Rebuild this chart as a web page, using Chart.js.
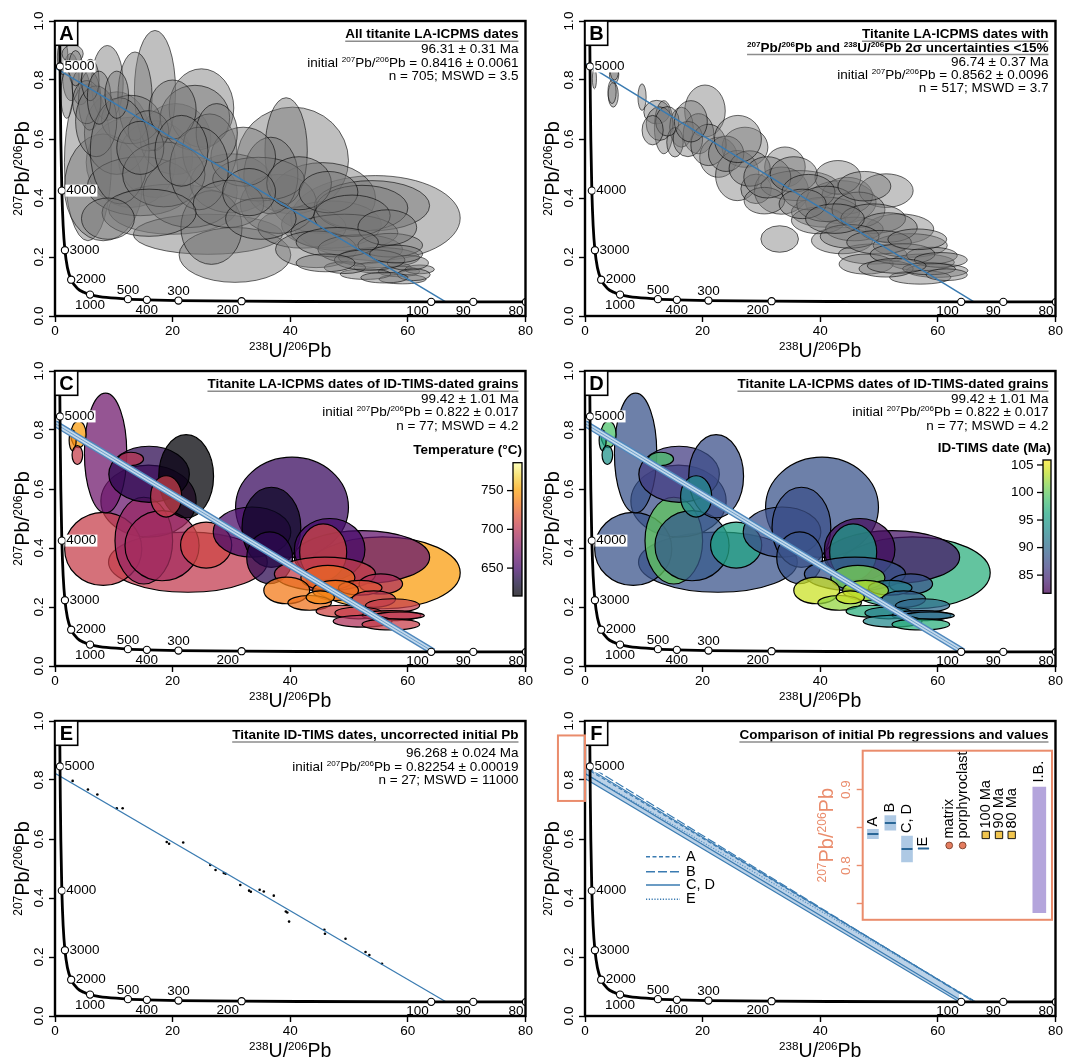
<!DOCTYPE html>
<html>
<head>
<meta charset="utf-8">
<title>Titanite U-Pb Tera-Wasserburg plots</title>
<script src="https://cdn.jsdelivr.net/npm/chart.js@4.4.1/dist/chart.umd.min.js"></script>
<style>
  html, body { margin: 0; padding: 0; background: #fff; }
  #page { position: relative; width: 1068px; height: 1059px; overflow: hidden; }
  #page canvas { position: absolute; }
</style>
</head>
<body>
<div id="page">
  <canvas id="cA" width="534" height="360" style="left:0;top:0"></canvas>
  <canvas id="cB" width="534" height="360" style="left:530px;top:0"></canvas>
  <canvas id="cC" width="534" height="360" style="left:0;top:350px"></canvas>
  <canvas id="cD" width="534" height="360" style="left:530px;top:350px"></canvas>
  <canvas id="cE" width="534" height="360" style="left:0;top:700px"></canvas>
  <canvas id="cF" width="534" height="360" style="left:530px;top:700px"></canvas>
  <canvas id="cInset" width="262" height="190" style="left:800px;top:740px"></canvas>
</div>
<script>
const FONT = '"Liberation Sans", Arial, Helvetica, sans-serif';
const ORANGE = '#ea8c6c';
const BLUE = '#3a7bb1';

// Axes
const xTicks = [0, 20, 40, 60, 80];
const yTicks = [0, 0.2, 0.4, 0.6, 0.8, 1.0];

// Tera-Wasserburg concordia (age in Ma)
const concAge = [5250, 5200, 5100, 5000, 4800, 4500, 4000, 3500, 3000, 2500, 2000, 1500, 1200, 1000, 800, 700, 500, 400, 300, 200, 150, 100, 90, 80, 75];
const concX = [0.795, 0.806, 0.829, 0.853, 0.905, 0.990, 1.163, 1.387, 1.688, 2.111, 2.749, 3.817, 4.888, 5.959, 7.568, 8.718, 12.40, 15.62, 20.99, 31.73, 42.48, 63.97, 71.13, 80.08, 85.48];
const concY = [1.009, 0.974, 0.907, 0.846, 0.735, 0.597, 0.425, 0.306, 0.223, 0.164, 0.123, 0.0936, 0.0802, 0.0725, 0.0658, 0.0628, 0.0572, 0.0547, 0.0524, 0.0501, 0.0491, 0.0480, 0.0478, 0.0476, 0.04755];
const markerAges = [5000, 4000, 3000, 2000, 1000, 500, 400, 300, 200, 100, 90, 80];
const markerLabelPos = ['r', 'r', 'r', 'r', 'b', 't', 'b', 't', 'bl', 'bl', 'bl', 'bl'];
const markerLabelBox = [true, true, false, false, false, false, false, false, false, false, false, false];

// Regressions (y intercept = initial 207Pb/206Pb, lower intercept on concordia)
const regName = ['A', 'B', 'C, D', 'E'];
const regY0 = [0.8416, 0.8562, 0.822, 0.82254];
const regY0Err = [0.0061, 0.0096, 0.017, 0.00019];
const regEndX = [66.44, 66.14, 64.34, 66.46];
const regEndY = [0.0480, 0.0480, 0.0481, 0.0480];
// panel F envelope
const bandY0 = [0.805, 0.847];
const bandEndX = [63.6, 66.3];

// Panel A ellipses (all LA-ICPMS spots, subset)
const aCx = [54.5, 40.4, 12.9, 17.1, 5.6, 8.2, 20.0, 26.0, 30.6, 10.5, 20.5, 14.5, 23.0, 45.5, 30.0, 47.0, 42.0, 38.0, 17.0, 8.9, 13.6, 24.9, 23.8, 12.9, 15.9, 26.3, 39.3, 36.7, 34.6, 32.0, 26.6, 53.9, 52.2, 49.2, 44.4, 51.9, 55.1, 57.0, 55.7, 58.5, 59.1, 52.8, 49.3, 62.0, 60.0, 2.7, 4.4, 5.9, 1.3, 3.0, 5.4, 7.0,
  20.0, 27.5, 11.0, 18.5, 24.5, 29.5, 35.0, 41.5, 46.5, 50.5, 56.5, 48.0, 53.5, 58.0, 61.0, 56.0, 46.0, 3.5, 6.0, 7.5, 2.0, 10.5, 14.5, 21.5, 33.0, 16.0, 9.0];
const aCy = [0.332, 0.527, 0.521, 0.532, 0.521, 0.436, 0.362, 0.277, 0.207, 0.620, 0.600, 0.440, 0.420, 0.400, 0.450, 0.310, 0.300, 0.380, 0.764, 0.790, 0.745, 0.705, 0.672, 0.666, 0.628, 0.560, 0.560, 0.476, 0.464, 0.540, 0.300, 0.374, 0.366, 0.283, 0.226, 0.226, 0.198, 0.240, 0.164, 0.151, 0.125, 0.142, 0.164, 0.158, 0.180, 0.810, 0.776, 0.730, 0.878, 0.889, 0.725, 0.660,
  0.700, 0.620, 0.560, 0.480, 0.500, 0.380, 0.330, 0.450, 0.420, 0.340, 0.300, 0.250, 0.190, 0.210, 0.140, 0.130, 0.180, 0.840, 0.800, 0.740, 0.750, 0.750, 0.570, 0.560, 0.420, 0.350, 0.330];
const aRx = [14.4, 9.5, 7.6, 6.3, 4.0, 6.6, 10.9, 12.7, 9.5, 5.5, 6.0, 9.0, 8.0, 9.0, 7.0, 8.5, 7.5, 6.5, 3.5, 2.7, 2.9, 5.5, 5.9, 5.0, 3.45, 4.6, 3.6, 4.6, 7.8, 5.5, 5.2, 9.8, 7.8, 9.1, 6.9, 7.2, 6.9, 5.5, 4.9, 3.5, 4.0, 4.3, 3.5, 2.5, 3.5, 1.4, 1.5, 1.9, 0.9, 1.8, 2.4, 3.5,
  4.0, 3.5, 5.0, 7.0, 5.0, 6.0, 6.0, 5.5, 5.0, 6.5, 5.0, 7.0, 6.0, 4.5, 2.8, 4.0, 5.0, 1.2, 1.5, 2.0, 1.0, 2.0, 4.0, 4.5, 4.5, 8.0, 4.5];
const aRy = [0.144, 0.181, 0.153, 0.130, 0.266, 0.181, 0.085, 0.068, 0.093, 0.140, 0.120, 0.100, 0.120, 0.120, 0.100, 0.080, 0.070, 0.100, 0.204, 0.127, 0.150, 0.133, 0.110, 0.082, 0.068, 0.125, 0.180, 0.130, 0.074, 0.100, 0.125, 0.085, 0.077, 0.062, 0.062, 0.050, 0.034, 0.040, 0.020, 0.018, 0.016, 0.018, 0.020, 0.015, 0.025, 0.080, 0.060, 0.100, 0.060, 0.030, 0.073, 0.120,
  0.100, 0.100, 0.180, 0.110, 0.140, 0.080, 0.070, 0.090, 0.070, 0.070, 0.060, 0.050, 0.035, 0.030, 0.020, 0.018, 0.030, 0.060, 0.070, 0.090, 0.080, 0.080, 0.090, 0.120, 0.080, 0.080, 0.070];

// Panel B ellipses (2-sigma < 15 %)
const bCx = [1.6, 4.8, 4.95, 9.7, 20.4, 12.2, 13.4, 12.7, 16.4, 15.3, 19.3, 22.7, 27.2, 25.9, 29.1, 34.0, 33.4, 36.5, 43.5, 44.6, 43.0, 51.2, 33.1, 40.9, 53.5, 43.7, 48.9, 55.3, 57.3, 59.9, 57.0, 47.8, 39.7, 30.5, 45.8, 59.0, 51.2,
  14.0, 17.5, 21.0, 24.0, 28.0, 31.0, 35.5, 38.0, 41.0, 46.5, 49.0, 51.5, 45.0, 50.0, 54.0, 56.5, 60.5, 58.5, 53.0, 61.5, 37.0, 42.5, 47.5, 26.0, 18.0, 11.5, 5.0, 4.6];
const bCy = [0.804, 0.750, 0.819, 0.742, 0.695, 0.691, 0.640, 0.652, 0.640, 0.589, 0.618, 0.538, 0.572, 0.476, 0.431, 0.505, 0.425, 0.442, 0.386, 0.408, 0.470, 0.425, 0.261, 0.352, 0.295, 0.256, 0.210, 0.239, 0.182, 0.154, 0.131, 0.176, 0.324, 0.391, 0.295, 0.205, 0.160,
  0.660, 0.600, 0.580, 0.550, 0.500, 0.470, 0.480, 0.420, 0.380, 0.360, 0.330, 0.300, 0.270, 0.250, 0.210, 0.260, 0.190, 0.160, 0.170, 0.140, 0.380, 0.330, 0.440, 0.600, 0.660, 0.630, 0.830, 0.760];
const bRx = [0.35, 0.86, 0.8, 0.7, 3.45, 2.2, 1.6, 2.3, 2.0, 1.4, 2.6, 3.2, 3.9, 3.7, 2.6, 3.45, 4.6, 6.6, 6.0, 4.3, 3.9, 4.6, 3.2, 5.8, 5.8, 5.2, 5.8, 6.3, 5.5, 5.2, 5.2, 4.6, 4.6, 3.45, 4.9, 4.3, 4.6,
  2.0, 2.5, 3.0, 3.0, 3.5, 4.0, 4.0, 4.5, 5.0, 4.5, 5.5, 5.0, 5.0, 5.5, 5.5, 5.0, 4.5, 4.5, 5.0, 3.5, 4.0, 5.0, 4.5, 4.0, 2.8, 1.8, 0.7, 0.7];
const bRy = [0.034, 0.042, 0.031, 0.045, 0.088, 0.040, 0.090, 0.057, 0.068, 0.050, 0.068, 0.068, 0.068, 0.085, 0.050, 0.068, 0.080, 0.051, 0.073, 0.062, 0.057, 0.057, 0.045, 0.051, 0.051, 0.045, 0.034, 0.040, 0.028, 0.023, 0.023, 0.034, 0.045, 0.045, 0.040, 0.028, 0.028,
  0.050, 0.060, 0.070, 0.060, 0.060, 0.070, 0.060, 0.060, 0.060, 0.060, 0.050, 0.050, 0.040, 0.040, 0.035, 0.035, 0.025, 0.020, 0.025, 0.020, 0.050, 0.050, 0.050, 0.080, 0.070, 0.050, 0.030, 0.040];

// Panels C, D: spots on ID-TIMS-dated grains
const cdCx = [22.6, 15.9, 8.2, 15.1, 18.2, 8.6, 16.0, 22.3, 12.9, 18.9, 25.7, 4.0, 3.0, 3.8, 40.3, 33.5, 36.8, 36.5, 55.7, 52.2, 46.7, 45.6, 45.9, 55.4, 46.4, 51.9, 39.4, 47.7, 54.2, 43.3, 45.1, 57.4, 48.6, 51.6, 57.2, 58.6, 52.3, 57.1];
const cdCy = [0.352, 0.559, 0.397, 0.425, 0.408, 0.722, 0.650, 0.643, 0.702, 0.575, 0.410, 0.785, 0.765, 0.715, 0.538, 0.454, 0.470, 0.367, 0.316, 0.369, 0.395, 0.386, 0.312, 0.278, 0.299, 0.265, 0.256, 0.256, 0.227, 0.214, 0.233, 0.205, 0.186, 0.180, 0.171, 0.171, 0.152, 0.141];
const cdRx = [13.5, 8.1, 6.56, 4.9, 6.3, 3.6, 6.85, 4.66, 2.16, 2.65, 4.35, 1.3, 0.6, 0.9, 9.6, 6.6, 5.0, 3.9, 13.2, 11.5, 6.0, 4.0, 8.6, 3.7, 4.6, 3.7, 3.9, 3.9, 3.7, 3.7, 2.4, 4.6, 4.2, 4.0, 5.0, 4.2, 5.0, 4.9];
const cdRy = [0.102, 0.122, 0.124, 0.147, 0.119, 0.203, 0.095, 0.141, 0.0226, 0.070, 0.078, 0.045, 0.035, 0.032, 0.170, 0.085, 0.136, 0.088, 0.122, 0.090, 0.105, 0.096, 0.057, 0.034, 0.042, 0.025, 0.045, 0.034, 0.028, 0.025, 0.022, 0.023, 0.020, 0.020, 0.017, 0.012, 0.020, 0.019];
const cdTemp = [703, 665, 705, 685, 690, 668, 640, 615, 700, 705, 710, 748, 742, 705, 645, 652, 625, 640, 748, 662, 650, 710, 705, 695, 728, 718, 735, 730, 700, 732, 740, 705, 710, 705, 710, 700, 695, 705];
const cdDate = [88, 87.5, 88, 100, 88.5, 88, 86, 87.5, 99, 93, 96, 99, 96, 94, 88, 87.5, 87.5, 88, 97, 83, 82.5, 95, 88, 88, 101, 92, 104, 103, 89, 102, 104, 90, 97, 92, 89, 91, 93, 97];
const tempRange = [614, 786];
const tempTicks = [650, 700, 750];
const dateRange = [81.7, 105.9];
const dateTicks = [85, 90, 95, 100, 105];

// Panel E: ID-TIMS analyses
const eX = [3.0, 5.6, 7.2, 10.5, 11.5, 19.0, 19.4, 21.8, 26.4, 27.3, 28.7, 29.0, 31.5, 33.0, 33.3, 34.8, 35.5, 37.2, 39.25, 39.5, 39.8, 45.8, 45.9, 49.4, 52.8, 53.45, 55.6];
const eY = [0.797, 0.768, 0.751, 0.704, 0.704, 0.590, 0.584, 0.588, 0.512, 0.495, 0.485, 0.482, 0.444, 0.425, 0.421, 0.428, 0.422, 0.408, 0.354, 0.351, 0.320, 0.292, 0.279, 0.262, 0.217, 0.207, 0.177];

// Panel F inset: initial Pb values
const insetYRange = [0.729, 0.951];
const insetYTicks = [0.75, 0.8, 0.85, 0.9];
const insetYLabels = [0.8, 0.9];
const initNames = ['matrix', 'porphyroclast'];
const initY = [0.8266, 0.8266];
const modelNames = ['100 Ma', '90 Ma', '80 Ma'];
const modelY = [0.8404, 0.8404, 0.8404];
const ibRange = [0.7384, 0.9034];

// inset layout slots (x positions on a 0-100 strip)
const insetRegSlot = [5.4, 14.6, 23.4, 32.1];
const initSlot = [45.7, 52.8];
const modelSlot = [65, 72, 78.7];
const ibSlot = 93.3;

// Annotation texts
const notes = {
  A: ['**All titanite LA-ICPMS dates', '96.31 ± 0.31 Ma', 'initial ^{207}Pb/^{206}Pb = 0.8416 ± 0.0061', 'n = 705; MSWD = 3.5'],
  B: ['**Titanite LA-ICPMS dates with', '**^{207}Pb/^{206}Pb and ^{238}U/^{206}Pb 2σ uncertainties <15%', '96.74 ± 0.37 Ma', 'initial ^{207}Pb/^{206}Pb = 0.8562 ± 0.0096', 'n = 517; MSWD = 3.7'],
  C: ['**Titanite LA-ICPMS dates of ID-TIMS-dated grains', '99.42 ± 1.01 Ma', 'initial ^{207}Pb/^{206}Pb = 0.822 ± 0.017', 'n = 77; MSWD = 4.2'],
  E: ['**Titanite ID-TIMS dates, uncorrected initial Pb', '96.268 ± 0.024 Ma', 'initial ^{207}Pb/^{206}Pb = 0.82254 ± 0.00019', 'n = 27; MSWD = 11000'],
  F: ['**Comparison of initial Pb regressions and values']
};
const noteGaps = { A: [0, 15, 13.4, 13.4], B: [0, 13.4, 14.4, 13.4, 13], C: [0, 14.4, 13.4, 14.1], E: [0, 17.4, 14, 13.3], F: [0] };

// colour maps
const infernoStops = [[0,0,4],[22,11,57],[66,10,104],[106,23,110],[147,38,103],[188,55,84],[221,81,58],[243,120,25],[252,165,10],[246,215,70],[252,255,164]];
const viridisStops = [[68,1,84],[72,36,117],[65,68,135],[53,95,141],[42,120,142],[33,145,140],[34,168,132],[68,191,112],[122,209,81],[189,223,38],[253,231,37]];
const CMAP_ALPHA = 0.74;

function cmap(stops, t, alpha) {
  t = Math.max(0, Math.min(1, t));
  const f = t * (stops.length - 1);
  const i = Math.min(Math.floor(f), stops.length - 2);
  const u = f - i;
  const c = stops[i].map((v, k) => Math.round(v + (stops[i + 1][k] - v) * u));
  return 'rgba(' + c.join(',') + ',' + alpha + ')';
}

// ---- rich text with superscripts: '^{207}Pb'
function segs(s) {
  const out = []; const re = /\^\{([^}]*)\}/g; let last = 0, m;
  while ((m = re.exec(s))) {
    if (m.index > last) out.push({ t: s.slice(last, m.index) });
    out.push({ t: m[1], sup: true });
    last = re.lastIndex;
  }
  if (last < s.length) out.push({ t: s.slice(last) });
  return out;
}
function setFont(ctx, size, bold) { ctx.font = (bold ? 'bold ' : '') + size + 'px ' + FONT; }
function richWidth(ctx, s, size, bold) {
  let w = 0;
  for (const g of segs(s)) { setFont(ctx, g.sup ? size * 0.6 : size, bold); w += ctx.measureText(g.t).width; }
  return w;
}
function drawRich(ctx, s, x, y, size, opt) {
  opt = opt || {};
  const bold = !!opt.bold;
  const w = richWidth(ctx, s, size, bold);
  let cx = opt.align === 'right' ? x - w : opt.align === 'center' ? x - w / 2 : x;
  const x0 = cx;
  ctx.fillStyle = opt.color || '#000';
  ctx.textAlign = 'left'; ctx.textBaseline = 'alphabetic';
  for (const g of segs(s)) {
    const sz = g.sup ? size * 0.6 : size;
    setFont(ctx, sz, bold);
    ctx.fillText(g.t, cx, g.sup ? y - size * 0.37 : y);
    cx += ctx.measureText(g.t).width;
  }
  if (opt.underline) {
    ctx.strokeStyle = '#8c8c8c'; ctx.lineWidth = 1.5;
    ctx.beginPath(); ctx.moveTo(x0, y + 3); ctx.lineTo(x0 + w, y + 3); ctx.stroke();
  }
}

function drawConcLabels(ctx, xs, ys) {
  setFont(ctx, 13.5, false);
  markerAges.forEach((t, k) => {
    const i = concAge.indexOf(t);
    const px = xs.getPixelForValue(concX[i]), py = ys.getPixelForValue(concY[i]);
    const pos = markerLabelPos[k], s = String(t);
    let x = px, y = py, align = 'center';
    if (pos === 'r') { x = px + 4.5; align = 'left'; }
    else if (pos === 'b') { y = py + 10.5; }
    else if (pos === 't') { y = py - 9; }
    else if (pos === 'bl') { x = px - 2.5; y = py + 9; align = 'right'; }
    const w = ctx.measureText(s).width;
    if (markerLabelBox[k]) {
      const lx = align === 'left' ? x : align === 'right' ? x - w : x - w / 2;
      ctx.fillStyle = '#fff'; ctx.fillRect(lx - 1, y - 6, w + 2, 12);
    }
    ctx.fillStyle = '#000'; ctx.textAlign = align; ctx.textBaseline = 'middle';
    ctx.fillText(s, x, y);
  });
}

function drawColorbar(ctx, cb) {
  const g = ctx.createLinearGradient(0, cb.y1, 0, cb.y0);
  cb.stops.forEach((c, i) => g.addColorStop(i / (cb.stops.length - 1), 'rgba(' + c.join(',') + ',' + CMAP_ALPHA + ')'));
  ctx.fillStyle = '#fff'; ctx.fillRect(cb.x0, cb.y0, cb.x1 - cb.x0, cb.y1 - cb.y0);
  ctx.fillStyle = g; ctx.fillRect(cb.x0, cb.y0, cb.x1 - cb.x0, cb.y1 - cb.y0);
  ctx.strokeStyle = '#000'; ctx.lineWidth = 1.3;
  ctx.strokeRect(cb.x0, cb.y0, cb.x1 - cb.x0, cb.y1 - cb.y0);
  setFont(ctx, 13.5, false);
  ctx.fillStyle = '#000'; ctx.textAlign = 'right'; ctx.textBaseline = 'middle';
  cb.ticks.forEach(v => {
    const py = cb.y1 - (v - cb.vmin) / (cb.vmax - cb.vmin) * (cb.y1 - cb.y0);
    ctx.beginPath(); ctx.moveTo(cb.x0 - 6, py); ctx.lineTo(cb.x0, py); ctx.stroke();
    ctx.fillText(String(v), cb.x0 - 9.5, py);
  });
  drawRich(ctx, cb.title, cb.titleX, cb.titleY, 13.5, { bold: true, align: 'right' });
}

const tw = {
  id: 'tw',
  beforeDatasetsDraw(chart, args, o) {
    if (!o.ellipses) return;
    const { ctx, chartArea: a } = chart;
    const xs = chart.scales.x, ys = chart.scales.y;
    ctx.save();
    ctx.beginPath(); ctx.rect(a.left, a.top, a.width, a.height); ctx.clip();
    for (const e of o.ellipses) {
      const px = xs.getPixelForValue(e.cx), py = ys.getPixelForValue(e.cy);
      const rx = Math.abs(xs.getPixelForValue(e.cx + e.rx) - px);
      const ry = Math.abs(ys.getPixelForValue(e.cy + e.ry) - py);
      ctx.beginPath(); ctx.ellipse(px, py, rx, ry, 0, 0, Math.PI * 2);
      ctx.fillStyle = e.fill; ctx.fill();
      ctx.lineWidth = e.lw; ctx.strokeStyle = e.stroke; ctx.stroke();
    }
    ctx.restore();
  },
  afterDraw(chart, args, o) {
    const { ctx, chartArea: a } = chart;
    const xs = chart.scales.x, ys = chart.scales.y;
    ctx.save();
    drawConcLabels(ctx, xs, ys);
    // frame
    ctx.strokeStyle = '#000'; ctx.lineWidth = 2.4;
    ctx.strokeRect(a.left, a.top, a.width, a.height);
    // rotated y tick labels
    setFont(ctx, 13.5, false);
    ctx.fillStyle = '#000'; ctx.textAlign = 'center'; ctx.textBaseline = 'middle';
    yTicks.forEach(v => {
      ctx.save(); ctx.translate(a.left - 16, ys.getPixelForValue(v)); ctx.rotate(-Math.PI / 2);
      ctx.fillText(v.toFixed(1), 0, 0); ctx.restore();
    });
    // axis titles
    ctx.save(); ctx.translate(22, (a.top + a.bottom) / 2); ctx.rotate(-Math.PI / 2);
    drawRich(ctx, '^{207}Pb/^{206}Pb', 0, 7, 20, { align: 'center' }); ctx.restore();
    drawRich(ctx, '^{238}U/^{206}Pb', (a.left + a.right) / 2, a.bottom + 41, 19.5, { align: 'center' });
    // panel letter
    ctx.fillStyle = '#fff'; ctx.fillRect(a.left, a.top, 22.7, 24.3);
    ctx.strokeStyle = '#000'; ctx.lineWidth = 1.6; ctx.strokeRect(a.left, a.top, 22.7, 24.3);
    setFont(ctx, 20, true); ctx.fillStyle = '#000'; ctx.textAlign = 'center'; ctx.textBaseline = 'middle';
    ctx.fillText(o.letter, a.left + 11.4, a.top + 13);
    // notes
    let y = o.noteTop;
    o.notes.forEach((s, i) => {
      y += o.gaps[i];
      const bold = s.startsWith('**');
      drawRich(ctx, bold ? s.slice(2) : s, a.right - 7, y, 13.5, { bold, underline: bold, align: 'right' });
    });
    if (o.colorbar) drawColorbar(ctx, o.colorbar);
    if (o.legend) {
      o.legend.forEach((it, i) => {
        const ly = o.legendY[i];
        ctx.strokeStyle = BLUE; ctx.lineWidth = 1.4; ctx.setLineDash(it.dash);
        ctx.beginPath(); ctx.moveTo(116, ly); ctx.lineTo(150, ly); ctx.stroke();
        ctx.setLineDash([]);
        setFont(ctx, 14.5, false); ctx.fillStyle = '#000'; ctx.textAlign = 'left'; ctx.textBaseline = 'middle';
        ctx.fillText(it.name, 156, ly);
      });
    }
    if (o.zoomBox) {
      const x0 = xs.getPixelForValue(-4.6), y0 = ys.getPixelForValue(insetYRange[1]), y1 = ys.getPixelForValue(insetYRange[0]);
      ctx.strokeStyle = ORANGE; ctx.lineWidth = 2;
      ctx.strokeRect(x0, y0, a.left - x0, y1 - y0);
    }
    ctx.restore();
  }
};

// ---- dataset helpers
const concPts = concX.map((x, i) => ({ x, y: concY[i] }));
const markerPts = markerAges.map(t => { const i = concAge.indexOf(t); return { x: concX[i], y: concY[i] }; });

function concordiaSets() {
  return [
    { data: markerPts, pointRadius: 3.6, pointBackgroundColor: '#fff', pointBorderColor: '#000', pointBorderWidth: 1.1, showLine: false },
    { data: concPts, showLine: true, borderColor: '#000', borderWidth: 2.8, pointRadius: 0, cubicInterpolationMode: 'monotone', fill: false }
  ];
}
function regPts(i) { return [{ x: 0, y: regY0[i] }, { x: regEndX[i], y: regEndY[i] }]; }
function lineSet(data, color, width, dash) {
  return { data, showLine: true, borderColor: color, borderWidth: width, borderDash: dash || [], pointRadius: 0, fill: false };
}
function greyEllipses(cx, cy, rx, ry, alpha) {
  return cx.map((v, i) => ({ cx: v, cy: cy[i], rx: rx[i], ry: ry[i], fill: 'rgba(118,118,118,' + alpha + ')', stroke: 'rgba(0,0,0,0.65)', lw: 0.9 }));
}
function colourEllipses(vals, stops, range) {
  return cdCx.map((v, i) => ({ cx: v, cy: cdCy[i], rx: cdRx[i], ry: cdRy[i],
    fill: cmap(stops, (vals[i] - range[0]) / (range[1] - range[0]), CMAP_ALPHA), stroke: '#000', lw: 1.2 }));
}
function bandedReg(i) {
  return [
    lineSet(regPts(i), '#6d9fcb', 1, []),
    lineSet(regPts(i), '#c3d9ec', 4.2, []),
    lineSet(regPts(i), '#4f88bd', 7, [])
  ];
}

function makePanel(id, datasets, tcfg) {
  return new Chart(document.getElementById(id), {
    type: 'scatter',
    data: { datasets },
    options: {
      responsive: false, animation: false, events: [],
      layout: { padding: { left: 0, right: 6, top: 21, bottom: 0 } },
      plugins: { legend: { display: false }, tooltip: { enabled: false }, colors: { enabled: false }, tw: tcfg },
      scales: {
        x: {
          type: 'linear', min: 0, max: 80,
          afterBuildTicks: s => { s.ticks = xTicks.map(v => ({ value: v })); },
          afterFit: s => { s.height = 44; },
          ticks: { color: '#000', font: { family: FONT, size: 13.5 }, padding: 1, maxRotation: 0, autoSkip: false },
          grid: { drawOnChartArea: false, drawTicks: true, tickLength: 6, tickWidth: 1.4, tickColor: '#000' },
          border: { display: false }
        },
        y: {
          type: 'linear', min: 0, max: 1,
          afterBuildTicks: s => { s.ticks = yTicks.map(v => ({ value: v })); },
          afterFit: s => { s.width = 55; },
          ticks: { color: 'rgba(0,0,0,0)', font: { family: FONT, size: 12.5 } },
          grid: { drawOnChartArea: false, drawTicks: true, tickLength: 6, tickWidth: 1.4, tickColor: '#000' },
          border: { display: false }
        }
      }
    },
    plugins: [tw]
  });
}

const noteTop = 38.2;

makePanel('cA', [...concordiaSets(), lineSet(regPts(0), BLUE, 1.5)],
  { letter: 'A', ellipses: greyEllipses(aCx, aCy, aRx, aRy, 0.47), notes: notes.A, gaps: noteGaps.A, noteTop });

makePanel('cB', [...concordiaSets(), lineSet(regPts(1), BLUE, 1.5)],
  { letter: 'B', ellipses: greyEllipses(bCx, bCy, bRx, bRy, 0.44), notes: notes.B, gaps: noteGaps.B, noteTop });

makePanel('cC', [...concordiaSets(), ...bandedReg(2)],
  { letter: 'C', ellipses: colourEllipses(cdTemp, infernoStops, tempRange), notes: notes.C, gaps: noteGaps.C, noteTop,
    colorbar: { stops: infernoStops, vmin: tempRange[0], vmax: tempRange[1], ticks: tempTicks, title: 'Temperature (°C)',
      x0: 513, x1: 522, y0: 112.7, y1: 246, titleX: 522, titleY: 104 } });

makePanel('cD', [...concordiaSets(), ...bandedReg(2)],
  { letter: 'D', ellipses: colourEllipses(cdDate, viridisStops, dateRange), notes: notes.C, gaps: noteGaps.C, noteTop,
    colorbar: { stops: viridisStops, vmin: dateRange[0], vmax: dateRange[1], ticks: dateTicks, title: 'ID-TIMS date (Ma)',
      x0: 513, x1: 521, y0: 110, y1: 243.3, titleX: 521, titleY: 101.5 } });

makePanel('cE', [...concordiaSets(), lineSet(regPts(3), BLUE, 1.2),
  { data: eX.map((x, i) => ({ x, y: eY[i] })), pointRadius: 1.3, pointBackgroundColor: '#000', pointBorderWidth: 0, showLine: false }],
  { letter: 'E', notes: notes.E, gaps: noteGaps.E, noteTop: 39.1 });

const regDash = [[4, 2.5], [9, 3], [], [1.2, 1.6]];
makePanel('cF', [
  ...concordiaSets(),
  lineSet(regPts(0), BLUE, 1.2, regDash[0]),
  lineSet(regPts(1), BLUE, 1.2, regDash[1]),
  lineSet(regPts(2), BLUE, 1.2, regDash[2]),
  lineSet(regPts(3), '#5b93c4', 1.2, regDash[3]),
  lineSet([{ x: 0, y: bandY0[0] }, { x: bandEndX[0], y: 0.048 }], BLUE, 1.1),
  { data: [{ x: 0, y: bandY0[1] }, { x: bandEndX[1], y: 0.048 }], showLine: true, borderColor: BLUE, borderWidth: 1.1,
    pointRadius: 0, fill: '-1', backgroundColor: 'rgba(120,165,210,0.5)' }
], { letter: 'F', notes: notes.F, gaps: noteGaps.F, noteTop: 39.1, zoomBox: true,
  legend: regName.map((n, i) => ({ name: n, dash: regDash[i] })), legendY: [156.7, 171.7, 185, 199.3] });

// ---- inset of panel F
const insetDecor = {
  id: 'insetDecor',
  beforeDraw(chart) {
    const { ctx, chartArea: a } = chart;
    ctx.save(); ctx.fillStyle = '#fff'; ctx.fillRect(a.left, a.top, a.width, a.height); ctx.restore();
  },
  afterDraw(chart) {
    const { ctx, chartArea: a } = chart;
    const xs = chart.scales.x, ys = chart.scales.y;
    ctx.save();
    ctx.strokeStyle = ORANGE; ctx.lineWidth = 2;
    ctx.strokeRect(a.left, a.top, a.width, a.height);
    setFont(ctx, 13.5, false);
    ctx.fillStyle = ORANGE; ctx.textAlign = 'center'; ctx.textBaseline = 'middle';
    insetYLabels.forEach(v => {
      ctx.save(); ctx.translate(a.left - 16.7, ys.getPixelForValue(v)); ctx.rotate(-Math.PI / 2);
      ctx.fillText(v.toFixed(1), 0, 0); ctx.restore();
    });
    ctx.save(); ctx.translate(26, (a.top + a.bottom) / 2); ctx.rotate(-Math.PI / 2);
    drawRich(ctx, '^{207}Pb/^{206}Pb', 0, 7, 20, { align: 'center', color: ORANGE }); ctx.restore();
    const items = [
      ...regName.map((n, i) => ({ t: n, x: insetRegSlot[i], y: regY0[i] + regY0Err[i], gap: i === 3 ? 2 : 3 })),
      ...initNames.map((n, i) => ({ t: n, x: initSlot[i], y: initY[i], gap: 7 })),
      ...modelNames.map((n, i) => ({ t: n, x: modelSlot[i], y: modelY[i], gap: 6.5 })),
      { t: 'I.B.', x: ibSlot, y: ibRange[1], gap: 4.5 }
    ];
    setFont(ctx, 14.5, false);
    ctx.fillStyle = '#000'; ctx.textAlign = 'left'; ctx.textBaseline = 'middle';
    items.forEach(it => {
      ctx.save(); ctx.translate(xs.getPixelForValue(it.x), ys.getPixelForValue(it.y) - it.gap); ctx.rotate(-Math.PI / 2);
      ctx.fillText(it.t, 0, 0); ctx.restore();
    });
    ctx.restore();
  }
};

new Chart(document.getElementById('cInset'), {
  type: 'bar',
  data: {
    datasets: [
      { type: 'scatter', data: regY0.map((v, i) => ({ x: insetRegSlot[i], y: v })), pointStyle: 'line', pointRadius: 5.5,
        borderColor: '#2a6797', pointBorderColor: '#2a6797', pointBorderWidth: 2 },
      { type: 'scatter', data: initY.map((v, i) => ({ x: initSlot[i], y: v })), pointStyle: 'circle', pointRadius: 3.4,
        pointBackgroundColor: '#e47d60', pointBorderColor: '#6b3320', pointBorderWidth: 0.8 },
      { type: 'scatter', data: modelY.map((v, i) => ({ x: modelSlot[i], y: v })), pointStyle: 'rect', pointRadius: 5.2,
        pointBackgroundColor: '#f1c54e', pointBorderColor: '#000', pointBorderWidth: 0.9 },
      { type: 'bar', data: regY0.map((v, i) => ({ x: insetRegSlot[i], y: [v - regY0Err[i], v + regY0Err[i]] })),
        backgroundColor: 'rgba(120,165,210,0.6)', barThickness: 11, grouped: false },
      { type: 'bar', data: [{ x: ibSlot, y: ibRange }], backgroundColor: '#b4a5dc', barThickness: 13, grouped: false }
    ]
  },
  options: {
    responsive: false, animation: false, events: [],
    layout: { padding: { left: 0, right: 10, top: 10.7, bottom: 7.3 } },
    plugins: { legend: { display: false }, tooltip: { enabled: false }, colors: { enabled: false } },
    scales: {
      x: { type: 'linear', min: 0, max: 100, display: false, offset: false },
      y: {
        type: 'linear', min: insetYRange[0], max: insetYRange[1], beginAtZero: false,
        afterBuildTicks: s => { s.ticks = insetYTicks.map(v => ({ value: v })); },
        afterFit: s => { s.width = 62.7; },
        ticks: { color: 'rgba(0,0,0,0)' },
        grid: { drawOnChartArea: false, drawTicks: true, tickLength: 6, tickWidth: 1.4, tickColor: ORANGE },
        border: { display: false }
      }
    }
  },
  plugins: [insetDecor]
});
</script>
</body>
</html>
